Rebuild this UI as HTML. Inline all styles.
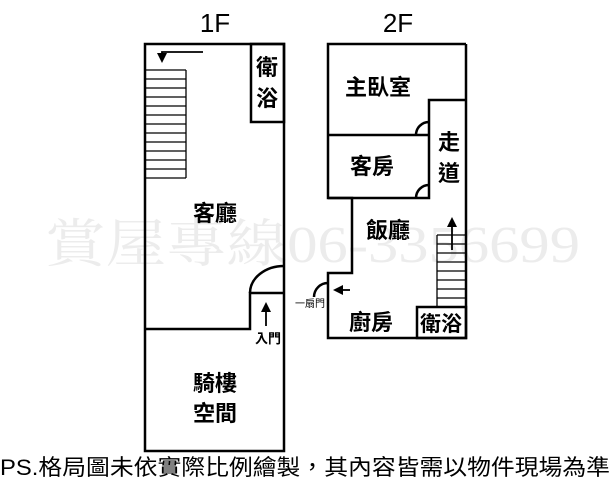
<!DOCTYPE html>
<html><head><meta charset="utf-8"><style>
html,body{margin:0;padding:0;background:#fff;}
svg{display:block;}
text{font-family:"Liberation Sans","Noto Sans CJK TC",sans-serif;}
</style></head><body>
<svg width="612" height="479" viewBox="0 0 612 479" xmlns="http://www.w3.org/2000/svg">
<defs><marker id="ah" markerWidth="10" markerHeight="10" refX="7" refY="5" orient="auto" markerUnits="userSpaceOnUse"><path d="M0,0 L10,5 L0,10 Z" fill="#000"/></marker></defs>
<text x="45" y="262" font-size="52" fill="#ececec" style="font-family:'Liberation Serif','Noto Serif CJK SC',serif" textLength="535" lengthAdjust="spacingAndGlyphs">賞屋專線06-3356699</text>
<g fill="none" stroke="#000" stroke-width="2.5">
<rect x="145" y="44" width="139" height="407"/>
<rect x="251" y="44" width="33" height="78"/>
<polyline points="145,329 250,329 250,293 284,293"/>
<path d="M250,293 A34,27 0 0 1 284,266"/>
<polyline points="466,44 328,44 328,198 352,198 352,273 328,273 328,338 466,338 466,44"/>
<polyline points="466,100 429,100 429,198 328,198"/>
<line x1="328" y1="135" x2="429" y2="135"/>
<rect x="417" y="307" width="49" height="31"/>
<path d="M416,135 A13,13 0 0 1 429,122"/>
<path d="M416,198 A13,13 0 0 1 429,185"/>
<path d="M314,297 A14,14 0 0 1 328,283"/>
</g>
<g stroke="#000" stroke-width="1.3">
<line x1="145" y1="70" x2="186" y2="70"/>
<line x1="186" y1="70" x2="186" y2="178"/>
<line x1="145" y1="79" x2="186" y2="79"/><line x1="145" y1="88" x2="186" y2="88"/><line x1="145" y1="97" x2="186" y2="97"/><line x1="145" y1="106" x2="186" y2="106"/><line x1="145" y1="115" x2="186" y2="115"/><line x1="145" y1="124" x2="186" y2="124"/><line x1="145" y1="133" x2="186" y2="133"/><line x1="145" y1="142" x2="186" y2="142"/><line x1="145" y1="151" x2="186" y2="151"/><line x1="145" y1="160" x2="186" y2="160"/><line x1="145" y1="169" x2="186" y2="169"/><line x1="145" y1="178" x2="186" y2="178"/>
<line x1="437" y1="235" x2="437" y2="307"/>
<line x1="437" y1="235" x2="466" y2="235"/><line x1="437" y1="244" x2="466" y2="244"/><line x1="437" y1="253" x2="466" y2="253"/><line x1="437" y1="262" x2="466" y2="262"/><line x1="437" y1="271" x2="466" y2="271"/><line x1="437" y1="280" x2="466" y2="280"/><line x1="437" y1="289" x2="466" y2="289"/><line x1="437" y1="298" x2="466" y2="298"/>
</g>
<g stroke="#000" stroke-width="1.8" fill="none">
<polyline points="203,52 162,52 162,60" marker-end="url(#ah)"/>
<line x1="266" y1="326" x2="266" y2="305" marker-end="url(#ah)"/>
<line x1="452" y1="250" x2="452" y2="220" marker-end="url(#ah)"/>
<line x1="350" y1="290" x2="336" y2="290" marker-end="url(#ah)"/>
</g>
<g font-weight="bold" font-size="22" text-anchor="middle" fill="#000">
<text x="215" y="32" font-weight="normal" font-size="26">1F</text>
<text x="398" y="32" font-weight="normal" font-size="26">2F</text>
<text x="267" y="75">衛</text>
<text x="267" y="106">浴</text>
<text x="215" y="221">客廳</text>
<text x="215" y="391">騎樓</text>
<text x="215" y="421">空間</text>
<text x="378" y="95">主臥室</text>
<text x="372" y="174">客房</text>
<text x="449" y="150">走</text>
<text x="449" y="181">道</text>
<text x="388" y="238">飯廳</text>
<text x="371" y="330">廚房</text>
<text x="441" y="331" font-size="21">衛浴</text>
</g>
<text x="268" y="343" font-size="13" text-anchor="middle" font-weight="bold">入門</text>
<text x="310" y="307" font-size="10" text-anchor="middle">一扇門</text>
<text x="0" y="475" font-size="22" textLength="610" lengthAdjust="spacingAndGlyphs">PS.格局圖未依實際比例繪製，其內容皆需以物件現場為準</text>
</svg>
</body></html>
